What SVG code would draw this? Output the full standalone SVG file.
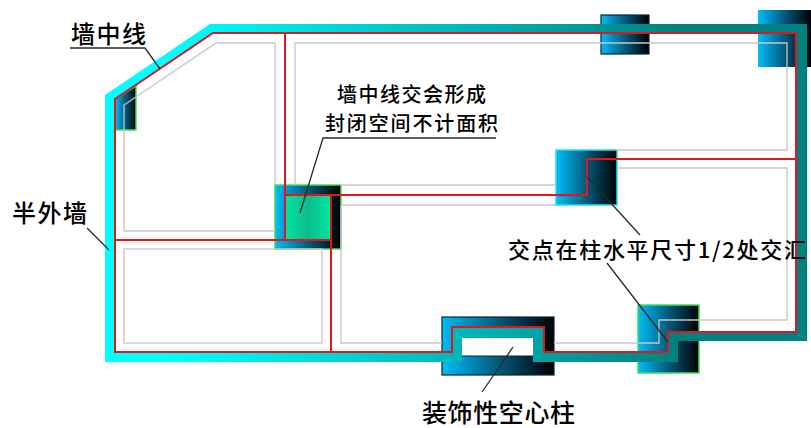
<svg xmlns="http://www.w3.org/2000/svg" width="811" height="428" viewBox="0 0 811 428">
<style>
.col{fill:url(#colGrad)}
.grn{stroke:#3fe05a;stroke-width:1.5}
.dk{stroke:#0b2533;stroke-width:1.2}
.cy{stroke:#22e0e8;stroke-width:1.5}
.grey{fill:none;stroke:#c6c6c6;stroke-width:1.3}
.red{fill:none;stroke:#e2161c;stroke-width:2}
.lead{fill:none;stroke:#2a2a2a;stroke-width:1.3}
text{font-family:"Noto Sans CJK SC","Noto Sans",sans-serif;font-size:22px;font-weight:500;fill:#000}
.tight{font-size:20px}
.big{font-size:24px}
</style>
<defs>
<linearGradient id="colGrad" x1="0" y1="0" x2="1" y2="0"><stop offset="0" stop-color="#00bdf8"/><stop offset="0.5" stop-color="#045a7c"/><stop offset="1" stop-color="#000"/></linearGradient>
<linearGradient id="wallGrad" gradientUnits="userSpaceOnUse" x1="170" y1="0" x2="680" y2="0"><stop offset="0" stop-color="#00ffff"/><stop offset="1" stop-color="#008080"/></linearGradient>
<linearGradient id="greenGrad" x1="0" y1="0" x2="1" y2="0"><stop offset="0" stop-color="#00e4a0"/><stop offset="0.5" stop-color="#0cbc8c"/><stop offset="1" stop-color="#00e8a0"/></linearGradient>
</defs>
<rect width="811" height="428" fill="#fff"/>
<g id="columns">
<g id="col-top-left"><polygon class="col grn" points="115,99 136,86 136,130 115,130"/></g>
<g id="col-top-mid"><rect class="col dk" x="601" y="15" width="48" height="39"/></g>
<g id="col-top-right"><rect class="col" x="758" y="10" width="53" height="57"/></g>
<g id="col-center"><rect class="col grn" x="275" y="185" width="66" height="64"/><rect x="285" y="196" width="46" height="43" fill="url(#greenGrad)"/></g>
<g id="col-right"><rect class="col cy" x="556" y="150" width="61" height="55"/></g>
<g id="col-hollow"><rect class="col dk" x="442" y="317" width="112" height="58"/><rect x="462" y="328" width="71" height="28" fill="#fff"/><line x1="462" y1="356" x2="533" y2="356" stroke="#0b2533" stroke-width="1.2"/></g>
<g id="col-bottom"><rect class="col grn" x="638" y="305" width="61" height="68"/></g>
</g>
<g id="wall"><path fill="url(#wallGrad)" fill-rule="evenodd" d="M105,362V95L210,24H807V341H678V362H533V338H462V362ZM115,352H452V328H544V352H668V332H797V33H213L115,99Z"/></g>
<g id="connectors">
<g id="inner-lines">
<path class="grey" d="M124,231V105L216,43H275V185"/>
<path class="grey" d="M124,231H275"/>
<path class="grey" d="M295,185V43H787V150H617"/>
<path class="grey" d="M341,185H556M341,205H556"/>
<path class="grey" d="M341,205V343H442M554,343H659V320H787V168H617"/>
<rect class="grey" x="124" y="249" width="198" height="94"/>
</g>
<g id="centre-lines">
<path class="red" d="M115,352V99L213,33H796V332H668V352H544V327H452V352Z"/>
<path class="red" d="M285,33V240M115,240H331M285,195H556M556,195H587V159H796M331,195V352"/>
</g>
<g id="leaders">
<path class="lead" d="M70,48H145L160,69"/>
<path class="lead" d="M87,228L109,250"/>
<path class="lead" d="M496,138H323L300,213"/>
<path class="lead" d="M587,177L640,235"/>
<path class="lead" d="M607,263L668,342"/>
<path class="lead" d="M513,347L482,392"/>
</g>
</g>
<g id="labels">
<text class="big" x="71" y="43" textLength="75">墙中线</text>
<text class="big" x="12" y="222" textLength="75">半外墙</text>
<text class="tight" x="337" y="102" textLength="149">墙中线交会形成</text>
<text class="tight" x="325" y="131" textLength="173">封闭空间不计面积</text>
<text x="508" y="258" textLength="298">交点在柱水平尺寸1/2处交汇</text>
<text x="422" y="422" style="font-size:25px" textLength="153">装饰性空心柱</text>
</g>
</svg>
